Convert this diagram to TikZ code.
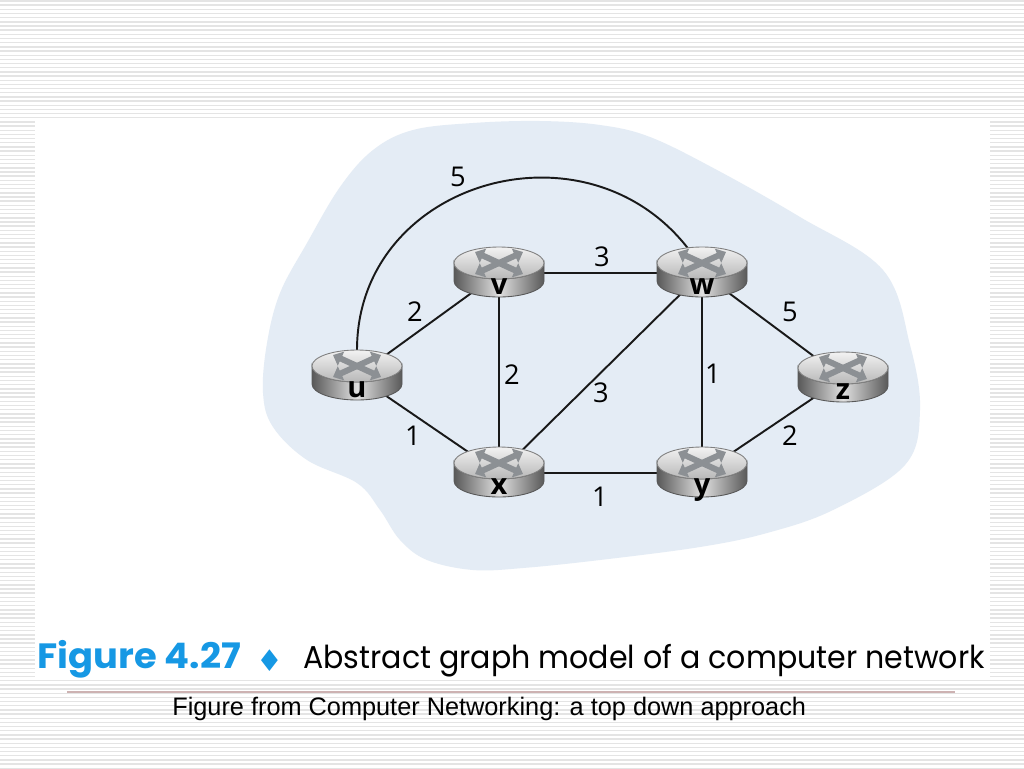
\documentclass[tikz,border=0pt]{standalone}
\usepackage{fontspec}
\usetikzlibrary{arrows.meta}
\setmainfont{Liberation Sans}
\newfontfamily\geofont{Poppins}
\newfontfamily\netfont{Open Sans}
\newfontfamily\symfont{DejaVu Sans}
\definecolor{blobblue}{RGB}{228,236,245}
\definecolor{figblue}{RGB}{22,152,228}
\definecolor{stripe}{RGB}{228,228,228}
\definecolor{rulered}{RGB}{205,178,178}
\definecolor{iconcol}{RGB}{140,144,148}

\tikzset{
  link/.style={line width=1.1pt, black!90},
  weight/.style={font=\netfont\fontsize{15.5}{18}\selectfont, inner sep=0pt},
  rlabel/.style={font=\netfont\bfseries\fontsize{16.5}{18}\selectfont, inner sep=0pt, anchor=base},
  xicon/.style={iconcol, line width=3.4pt, {Triangle[length=5pt,width=8.5pt]}-{Triangle[length=5pt,width=8.5pt]}},
}

\newcommand{\router}[2]{%
  \begin{scope}[shift={(#1)}]
    \draw[line width=0.5pt, black!65, left color=black!65, right color=black!65, middle color=black!12]
      (-45,-10) -- (-45,8) arc[start angle=180, end angle=0, x radius=45, y radius=16]
      -- (45,-10) arc[start angle=0, end angle=180, x radius=45, y radius=16] -- cycle;
    \draw[line width=0.5pt, black!50, top color=black!5, bottom color=black!28]
      (0,-10) ellipse[x radius=45, y radius=16];
    \draw[xicon] (-24,-21) -- (24,1);
    \draw[xicon] (-24,1) -- (24,-21);
    \node[rlabel] (#1-name) at (0,21) {#2};
  \end{scope}}

\begin{document}
\begin{tikzpicture}[x=0.02cm, y=-0.02cm]
  \useasboundingbox (0,0) rectangle (1024,768);
  \fill[white] (0,0) rectangle (1024,768);
  \foreach \k in {0,...,184}
    \draw[stripe, line width=0.8pt] (0,{\k*4.17+1}) -- (1024,{\k*4.17+1});
  \fill[white] (35,120) rectangle (990,680);

  \fill[blobblue] plot[smooth cycle, tension=0.6] coordinates {
    (413,130) (473,123) (540,121) (600,125) (650,137) (717,170) (800,217)
    (883,270) (910,345) (920,410) (905,465) (833,510) (767,533) (700,547)
    (600,560) (523,568) (473,570) (427,560) (400,540) (380,510) (357,483)
    (307,460) (273,427) (263,393) (267,343) (280,293) (307,243) (340,187) (373,150)};

  \coordinate (u) at (357,376);
  \coordinate (v) at (499,273);
  \coordinate (w) at (702,273);
  \coordinate (x) at (499,473);
  \coordinate (y) at (702,473);
  \coordinate (z) at (843,378);

  \draw[link] (u) -- ++(0,-26) .. controls (357,181) and (587,114) .. (690,251) -- (w);
  \draw[link] (u) -- (v);
  \draw[link] (u) -- (x);
  \draw[link] (v) -- (w);
  \draw[link] (v) -- (x);
  \draw[link] (x) -- (w);
  \draw[link] (x) -- (y);
  \draw[link] (w) -- (y);
  \draw[link] (w) -- (z);
  \draw[link] (y) -- (z);

  \router{u}{u}
  \router{v}{v}
  \router{w}{w}
  \router{x}{x}
  \router{y}{y}
  \router{z}{z}

  \node[weight] (uw-w) at (458,177) {5};
  \node[weight] (vw-w) at (602,257) {3};
  \node[weight] (uv-w) at (415,312) {2};
  \node[weight] (vx-w) at (512,375) {2};
  \node[weight] (xw-w) at (601,393) {3};
  \node[weight] (wy-w) at (713,374) {1};
  \node[weight] (wz-w) at (790,312) {5};
  \node[weight] (yz-w) at (790,436) {2};
  \node[weight] (ux-w) at (413,436) {1};
  \node[weight] (xy-w) at (600,497) {1};

  \node[font=\geofont\bfseries\fontsize{20}{22}\selectfont, text=figblue, anchor=base west, inner sep=0pt] (fignum) at (37,668) {\scalebox{1.05}[1]{Figure 4.27}};
  \node[font=\symfont\fontsize{17}{20}\selectfont, text=figblue, inner sep=0pt] (figmark) at (270,661) {♦};
  \node[font=\geofont\fontsize{18}{20}\selectfont, anchor=base west, inner sep=0pt] (figtitle) at (303,668) {\scalebox{0.95}[1]{Abstract graph model of a computer network}};
  \draw[rulered, line width=0.6pt] (67,692) -- (955,692);
  \node[font=\fontsize{14.4}{17}\selectfont, anchor=base west, inner sep=0pt] (source) at (172,715) {Figure from Computer Networking: a top down approach};
\end{tikzpicture}
\end{document}
